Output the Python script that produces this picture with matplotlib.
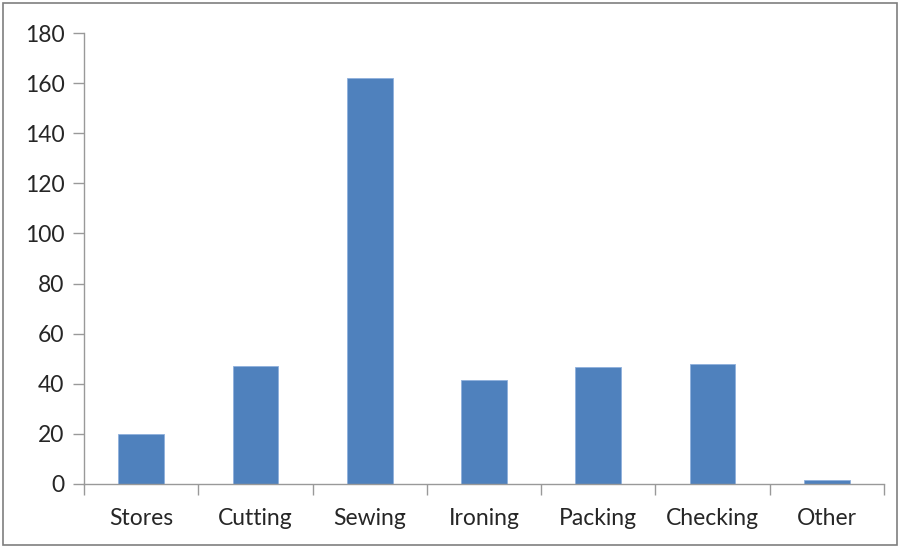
import matplotlib
matplotlib.use("Agg")
import matplotlib.pyplot as plt
from matplotlib.patches import Rectangle

categories = ["Stores", "Cutting", "Sewing", "Ironing", "Packing", "Checking", "Other"]
values = [20, 47, 162, 41.5, 46.5, 48, 1.6]
yticks = [0, 20, 40, 60, 80, 100, 120, 140, 160, 180]

W, H = 901, 548
fig = plt.figure(figsize=(W / 100, H / 100), dpi=100)
fig.patch.set_facecolor("white")
ax = fig.add_axes([84 / W, (H - 484) / H, (884 - 84) / W, (484 - 33) / H])

x = list(range(len(categories)))
ax.bar(x, values, width=0.4, color="#4F81BD", edgecolor="#8fb0dc", linewidth=0.6)

ax.set_xlim(-0.5, len(categories) - 0.5)
ax.set_ylim(0, 180)
ax.set_yticks(yticks)
ax.set_yticklabels([str(t) for t in yticks])

ax.set_xticks(x)
ax.set_xticklabels(categories)
ax.set_xticks([i - 0.5 for i in range(len(categories) + 1)], minor=True)
ax.tick_params(axis="x", which="major", length=0, pad=17, labelsize=16.5, labelcolor="#262626")
ax.tick_params(axis="x", which="minor", length=8, width=1, color="#999999", direction="out")
ax.tick_params(axis="y", which="major", length=8, width=1, color="#999999", direction="out", pad=6,
               labelsize=16.5, labelcolor="#262626")

for lab in ax.get_xticklabels() + ax.get_yticklabels():
    lab.set_fontfamily(["Lato", "DejaVu Sans"])

for s in ["top", "right"]:
    ax.spines[s].set_visible(False)
for s in ["left", "bottom"]:
    ax.spines[s].set_color("#999999")
    ax.spines[s].set_linewidth(1)

fig.patches.append(Rectangle((3 / W, 3 / H), (897 - 3) / W, (545 - 3) / H, transform=fig.transFigure,
                             fill=False, edgecolor="#7f7f7f", linewidth=1.2))

fig.savefig("out.png", dpi=100)
